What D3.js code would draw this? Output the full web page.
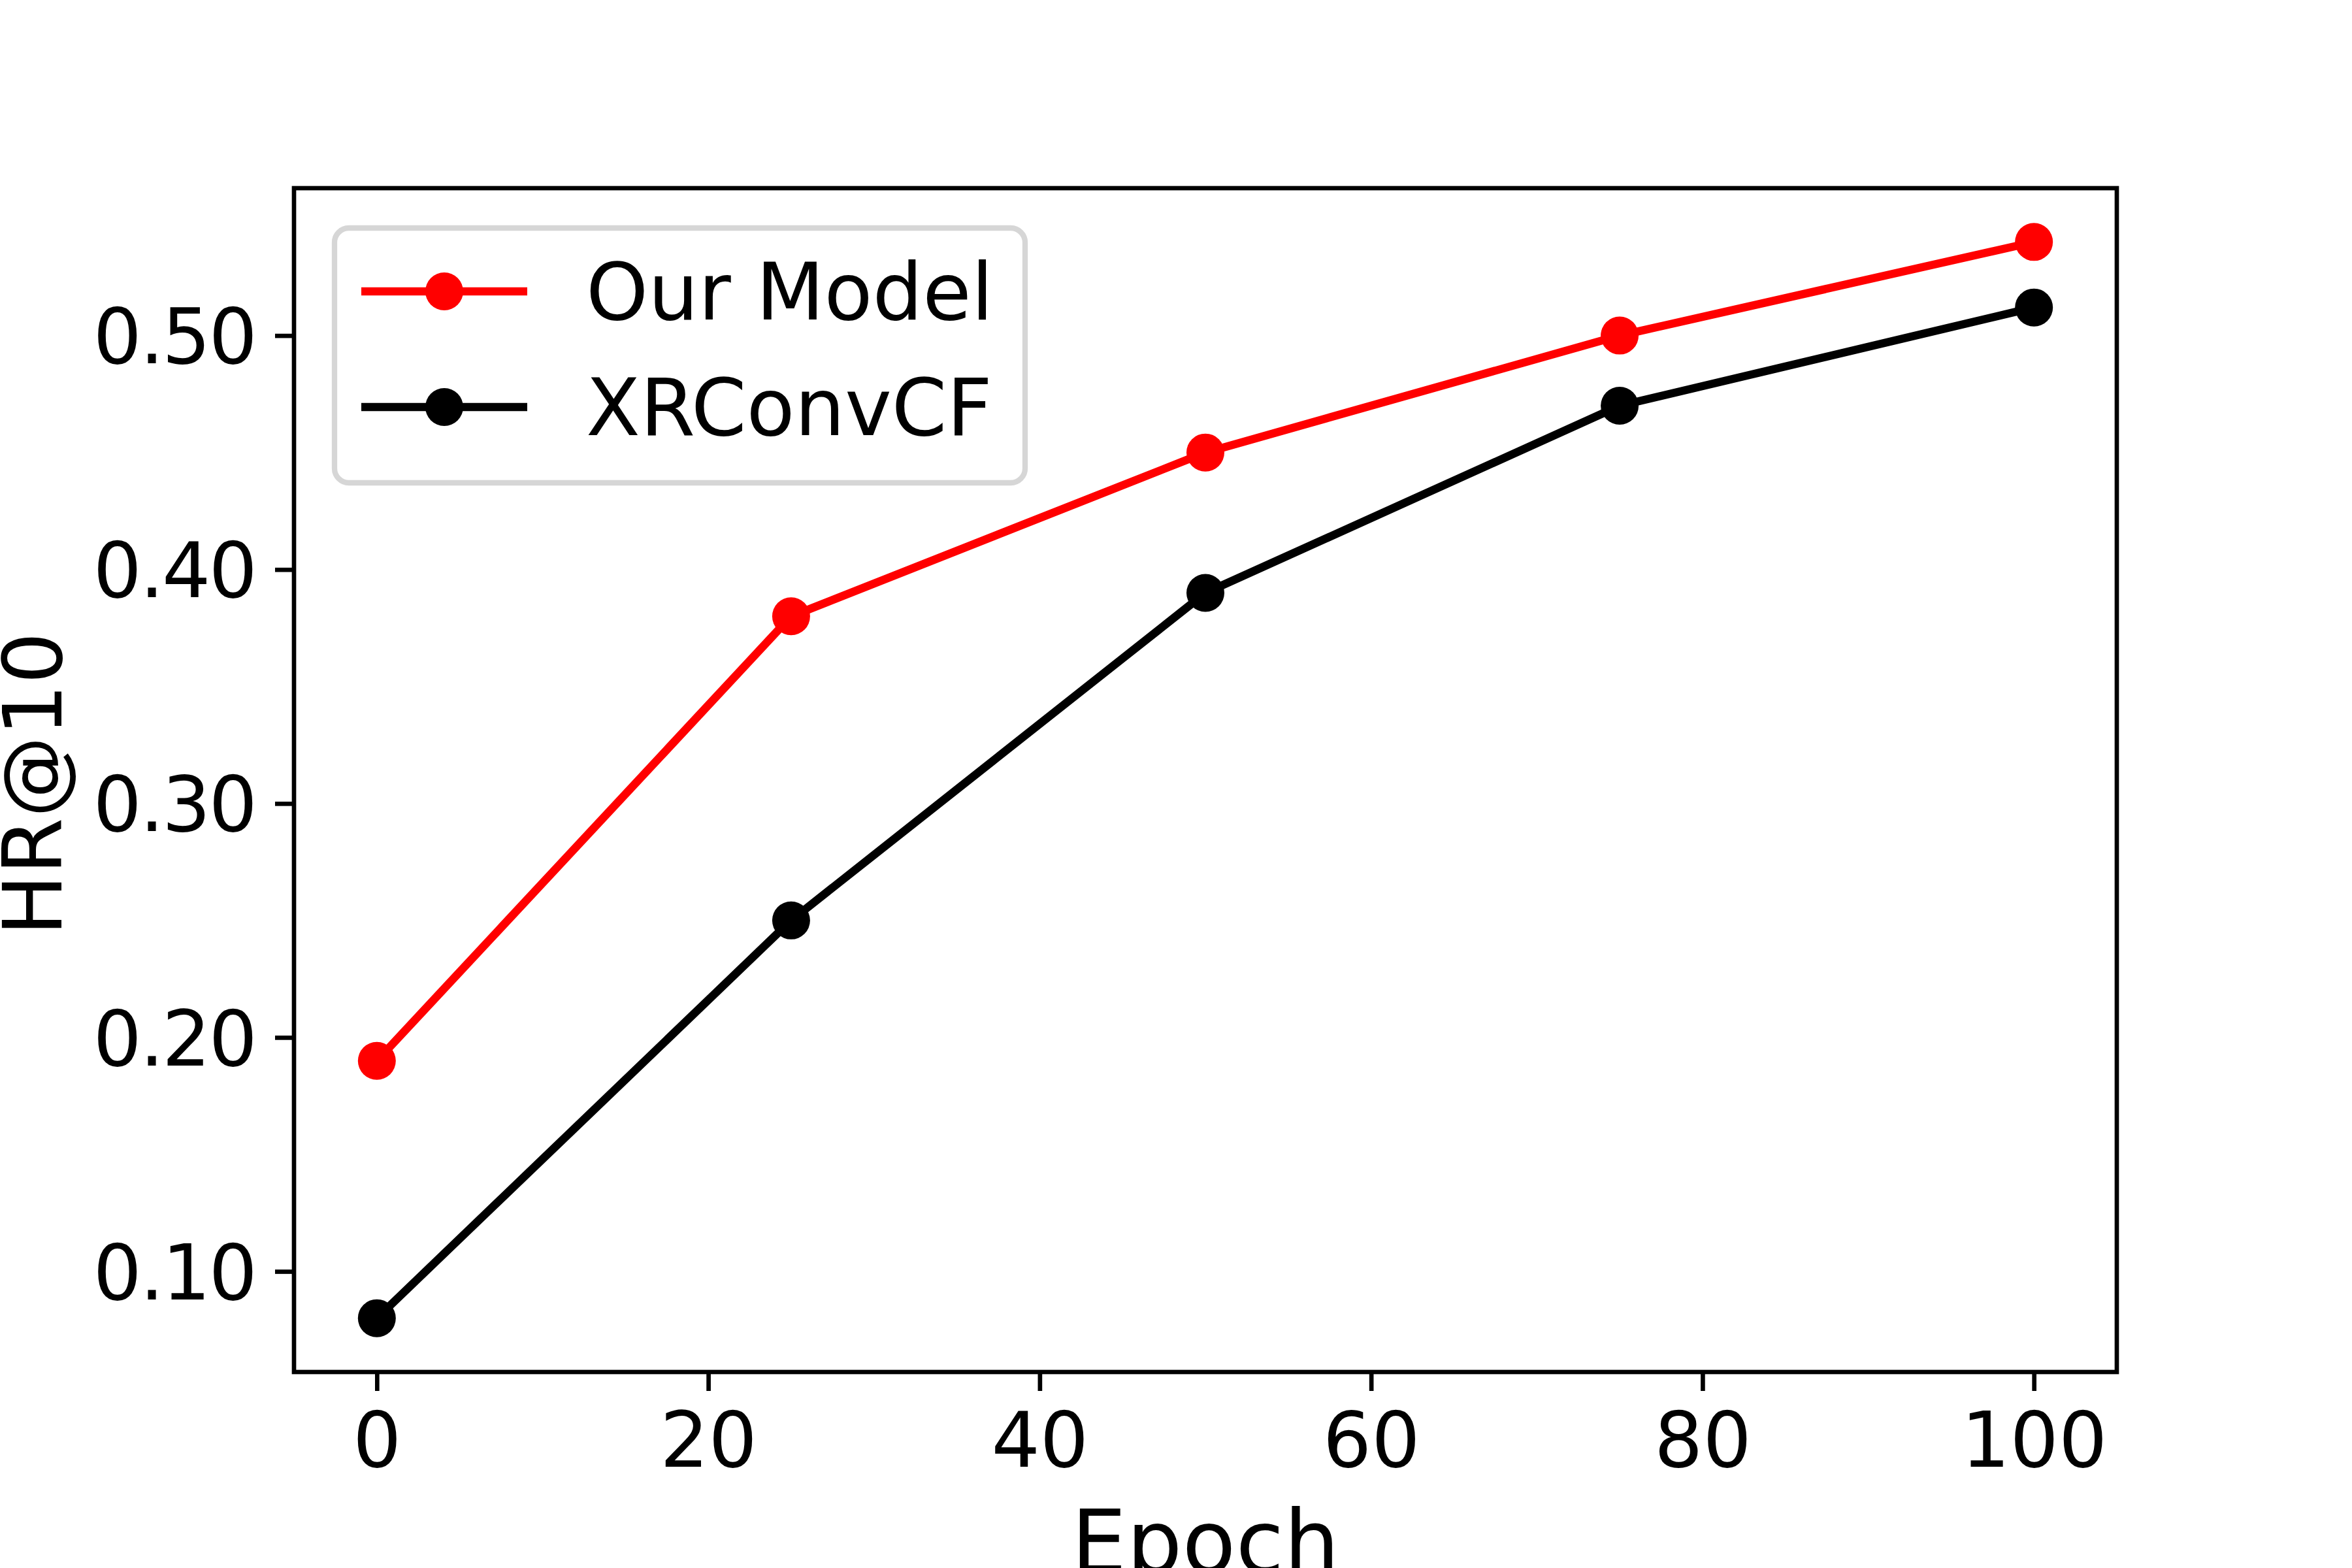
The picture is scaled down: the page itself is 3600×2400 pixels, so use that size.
<!DOCTYPE html>
<html>
<head>
<meta charset="utf-8">
<script src="https://cdn.jsdelivr.net/npm/d3@7"></script>
<style>
  body { margin: 0; background: #fff; }
  svg { display: block; font-family: "DejaVu Sans", sans-serif; }
</style>
</head>
<body>
<svg id="chart" width="3600" height="2400"></svg>
<script>
const epochs = [0, 25, 50, 75, 100];
const ourModel = [0.19, 0.38, 0.45, 0.50, 0.54];
const xrconvcf = [0.08, 0.25, 0.39, 0.47, 0.512];
const xTicks = [0, 20, 40, 60, 80, 100];
const yTicks = [0.10, 0.20, 0.30, 0.40, 0.50];
const seriesNames = ['Our Model', 'XRConvCF'];
const seriesColors = ['#ff0000', '#000000'];

const frame = { left: 450, right: 3240, top: 288, bottom: 2100 };
const lw = 12.5;       // 1.5pt at 600 dpi
const spineW = 6.67;   // 0.8pt
const markerR = 29;
const tickLen = 29;

const svg = d3.select('#chart');

const yPad = (d3.max(ourModel.concat(xrconvcf)) - d3.min(ourModel.concat(xrconvcf))) * 0.05;
const x = d3.scaleLinear().domain([-5, 105]).range([frame.left, frame.right]);
const y = d3.scaleLinear()
  .domain([d3.min(xrconvcf) - yPad, d3.max(ourModel) + yPad])
  .range([frame.bottom, frame.top]);

// axes
const xAxis = svg.append('g')
  .attr('transform', `translate(0,${frame.bottom})`)
  .call(d3.axisBottom(x).tickValues(xTicks).tickSize(tickLen).tickSizeOuter(0).tickPadding(33)
    .tickFormat(d3.format('d')));
const yAxis = svg.append('g')
  .attr('transform', `translate(${frame.left},0)`)
  .call(d3.axisLeft(y).tickValues(yTicks).tickSize(tickLen).tickSizeOuter(0).tickPadding(30)
    .tickFormat(d3.format('.2f')));

[xAxis, yAxis].forEach(g => {
  g.select('.domain').remove();
  g.selectAll('.tick line').attr('stroke', '#000').attr('stroke-width', spineW);
  g.selectAll('.tick text')
    .attr('fill', '#000')
    .style('font-size', '117px')
    .style('font-family', '"DejaVu Sans", sans-serif');
});
// matplotlib sets the tick numbers a touch tighter
yAxis.selectAll('.tick text').attr('dy', '0.36em').style('letter-spacing', '-3px');

// series
const line = d3.line().x(d => x(d[0])).y(d => y(d[1]));
const series = [ourModel, xrconvcf].map(vals => epochs.map((e, i) => [e, vals[i]]));

series.forEach((pts, i) => {
  const g = svg.append('g').attr('class', `series-${i}`);
  g.append('path')
    .datum(pts)
    .attr('d', line)
    .attr('fill', 'none')
    .attr('stroke', seriesColors[i])
    .attr('stroke-width', lw)
    .attr('stroke-linejoin', 'round')
    .attr('stroke-linecap', 'square');
  g.selectAll('circle')
    .data(pts)
    .enter().append('circle')
    .attr('cx', d => x(d[0]))
    .attr('cy', d => y(d[1]))
    .attr('r', markerR)
    .attr('fill', seriesColors[i]);
});

// frame
svg.append('rect')
  .attr('x', frame.left)
  .attr('y', frame.top)
  .attr('width', frame.right - frame.left)
  .attr('height', frame.bottom - frame.top)
  .attr('fill', 'none')
  .attr('stroke', '#000')
  .attr('stroke-width', spineW)
  .attr('stroke-linejoin', 'miter');

// axis labels (both run off the canvas edge in the original)
svg.append('text')
  .attr('x', (frame.left + frame.right) / 2)
  .attr('y', 2407)
  .attr('text-anchor', 'middle')
  .style('font-size', '134px')
  .text('Epoch');

svg.append('text')
  .attr('transform', `translate(94,${(frame.top + frame.bottom) / 2 + 6}) rotate(-90)`)
  .attr('text-anchor', 'middle')
  .style('font-size', '125px')
  .text('HR@10');

// legend
const legend = svg.append('g').attr('class', 'legend');
legend.append('rect')
  .attr('x', 512).attr('y', 349)
  .attr('width', 1057).attr('height', 390)
  .attr('rx', 22).attr('ry', 22)
  .attr('fill', '#fff').attr('fill-opacity', 0.8)
  .attr('stroke', '#d6d6d6')
  .attr('stroke-width', 8.3);

const rowY = [446, 623];
seriesNames.forEach((name, i) => {
  const row = legend.append('g').attr('transform', `translate(0,${rowY[i]})`);
  row.append('line')
    .attr('x1', 553).attr('x2', 807)
    .attr('y1', 0).attr('y2', 0)
    .attr('stroke', seriesColors[i])
    .attr('stroke-width', lw);
  row.append('circle')
    .attr('cx', 680).attr('cy', 0).attr('r', markerR)
    .attr('fill', seriesColors[i]);
  row.append('text')
    .attr('x', 897).attr('y', 43)
    .style('font-size', '121px')
    .text(name);
});
</script>
</body>
</html>
